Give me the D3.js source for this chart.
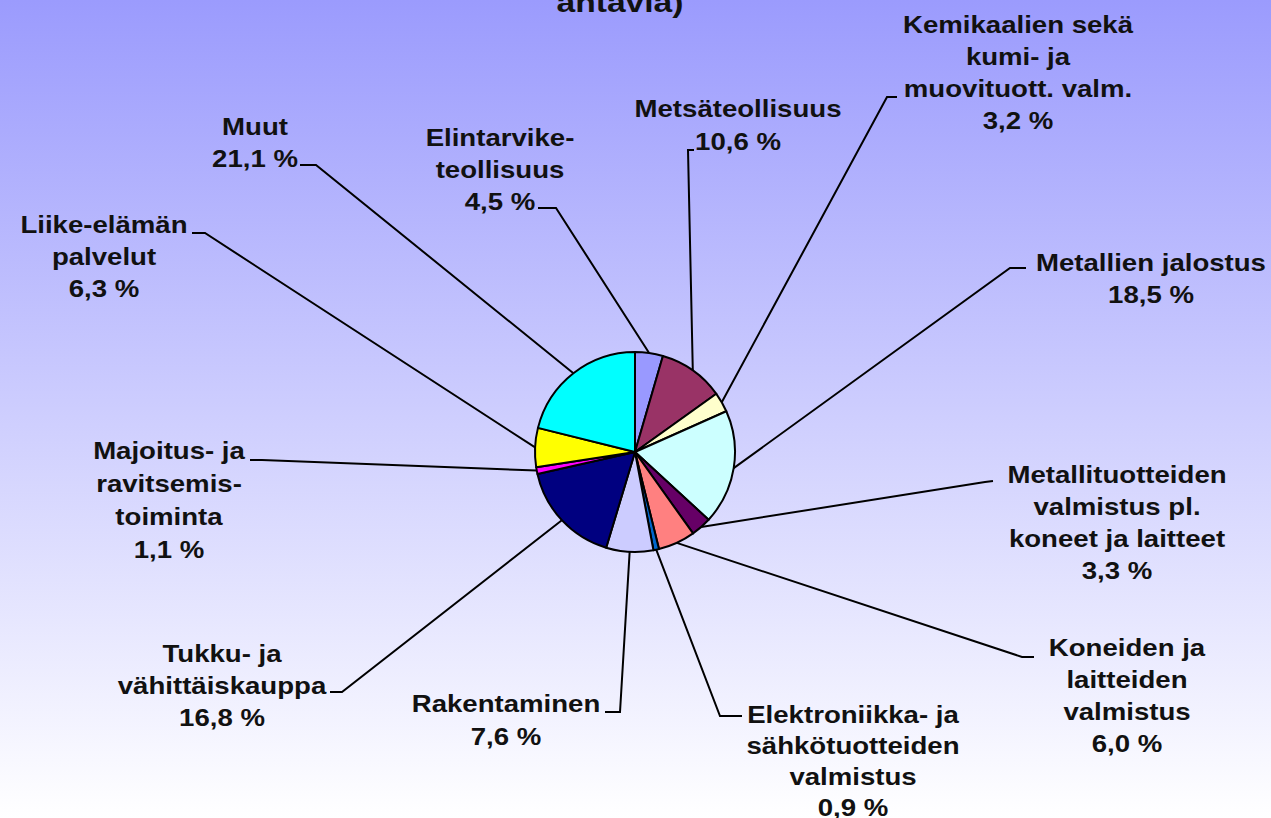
<!DOCTYPE html>
<html>
<head>
<meta charset="utf-8">
<script src="https://cdn.jsdelivr.net/npm/d3@7"></script>
<style>
  html, body { margin: 0; padding: 0; overflow: hidden; }
  svg { display: block; }
  text { font-family: "Liberation Sans", Arial, sans-serif; font-weight: bold; fill: #111; }
</style>
</head>
<body>
<svg id="chart" width="1271" height="818"></svg>
<script>
// ---- data ----
const categories = [
  "Elintarvike-teollisuus",
  "Metsäteollisuus",
  "Kemikaalien sekä kumi- ja muovituott. valm.",
  "Metallien jalostus",
  "Metallituotteiden valmistus pl. koneet ja laitteet",
  "Koneiden ja laitteiden valmistus",
  "Elektroniikka- ja sähkötuotteiden valmistus",
  "Rakentaminen",
  "Tukku- ja vähittäiskauppa",
  "Majoitus- ja ravitsemistoiminta",
  "Liike-elämän palvelut",
  "Muut"
];
const labelLines = [
  ["Elintarvike-", "teollisuus"],
  ["Metsäteollisuus"],
  ["Kemikaalien sekä", "kumi- ja", "muovituott. valm."],
  ["Metallien jalostus"],
  ["Metallituotteiden", "valmistus pl.", "koneet ja laitteet"],
  ["Koneiden ja", "laitteiden", "valmistus"],
  ["Elektroniikka- ja", "sähkötuotteiden", "valmistus"],
  ["Rakentaminen"],
  ["Tukku- ja", "vähittäiskauppa"],
  ["Majoitus- ja", "ravitsemis-", "toiminta"],
  ["Liike-elämän", "palvelut"],
  ["Muut"]
];
const values = [4.5, 10.6, 3.2, 18.5, 3.3, 6.0, 0.9, 7.6, 16.8, 1.1, 6.3, 21.1];
const colors = ["#9999FF", "#993366", "#FFFFCC", "#CCFFFF", "#660066", "#FF8080",
                "#0066CC", "#CCCCFF", "#000080", "#FF00FF", "#FFFF00", "#00FFFF"];
const titleText = "antavia)";

// ---- layout (label positions, not data) ----
const labelLayout = [
  {x: 500,  y: 146, dy: 32, anchor: [538, 208],  elbow: [556, 208]},
  {x: 738,  y: 117, dy: 33, anchor: [694, 150],  elbow: [688, 150]},
  {x: 1018, y: 33,  dy: 32, anchor: [897, 97],   elbow: [887, 97]},
  {x: 1151, y: 271, dy: 32, anchor: [1026, 268], elbow: [1010, 268]},
  {x: 1117, y: 483, dy: 32, anchor: [993, 481],  elbow: [985, 482]},
  {x: 1127, y: 656, dy: 32, anchor: [1034, 657], elbow: [1022, 657]},
  {x: 853,  y: 723, dy: 31, anchor: [742, 716],  elbow: [720, 716]},
  {x: 506,  y: 712, dy: 33, anchor: [605, 712],  elbow: [620, 712]},
  {x: 222,  y: 662, dy: 32, anchor: [330, 692],  elbow: [342, 692]},
  {x: 169,  y: 459, dy: 33, anchor: [250, 460],  elbow: [262, 460]},
  {x: 104,  y: 233, dy: 32, anchor: [192, 233],  elbow: [205, 233]},
  {x: 255,  y: 135, dy: 32, anchor: [300, 165],  elbow: [316, 165]}
];

const W = 1271, H = 818;
const cx = 635, cy = 452, R = 100;
const fontSize = 23, stretch = 1.2;

const svg = d3.select("#chart");

// background gradient
const defs = svg.append("defs");
const grad = defs.append("linearGradient").attr("id", "bg")
  .attr("x1", 0).attr("y1", 0).attr("x2", 0).attr("y2", 1);
grad.append("stop").attr("offset", "0%").attr("stop-color", "#9B9BFD");
grad.append("stop").attr("offset", "100%").attr("stop-color", "#FFFFFF");
svg.append("rect").attr("width", W).attr("height", H).attr("fill", "url(#bg)");

// title fragment (cut off at the top)
svg.append("g").attr("transform", `translate(620,12) scale(${stretch},1)`)
  .append("text").attr("text-anchor", "middle").style("font-size", "28px").text(titleText);

const fmt = v => d3.format(".1f")(v).replace(".", ",") + " %";

const data = categories.map((c, i) => ({name: c, value: values[i], color: colors[i], lines: labelLines[i], layout: labelLayout[i]}));

const pie = d3.pie().sort(null).value(d => d.value).startAngle(0).endAngle(2 * Math.PI);
const arcs = pie(data);
const arc = d3.arc().innerRadius(0).outerRadius(R);
const edgeArc = d3.arc().innerRadius(R).outerRadius(R);

const g = svg.append("g").attr("transform", `translate(${cx},${cy})`);

// leader lines
const line = d3.line();
svg.append("g").selectAll("path").data(arcs).join("path")
  .attr("fill", "none").attr("stroke", "#000").attr("stroke-width", 2)
  .attr("d", d => {
    const c = edgeArc.centroid(d);
    const L = d.data.layout;
    return line([L.anchor, L.elbow, [cx + c[0], cy + c[1]]]);
  });

// slices
g.selectAll("path").data(arcs).join("path")
  .attr("d", arc)
  .attr("fill", d => d.data.color)
  .attr("stroke", "#000").attr("stroke-width", 2).attr("stroke-linejoin", "round");

// labels
const lg = svg.append("g").selectAll("g").data(arcs).join("g")
  .attr("transform", d => `translate(${d.data.layout.x},${d.data.layout.y}) scale(${stretch},1)`);
lg.append("text")
  .attr("text-anchor", "middle")
  .style("font-size", fontSize + "px")
  .each(function(d) {
    const t = d3.select(this);
    const lines = d.data.lines.concat([fmt(d.data.value)]);
    lines.forEach((s, i) => {
      t.append("tspan").attr("x", 0).attr("y", i * d.data.layout.dy).text(s);
    });
  });
</script>
</body>
</html>
